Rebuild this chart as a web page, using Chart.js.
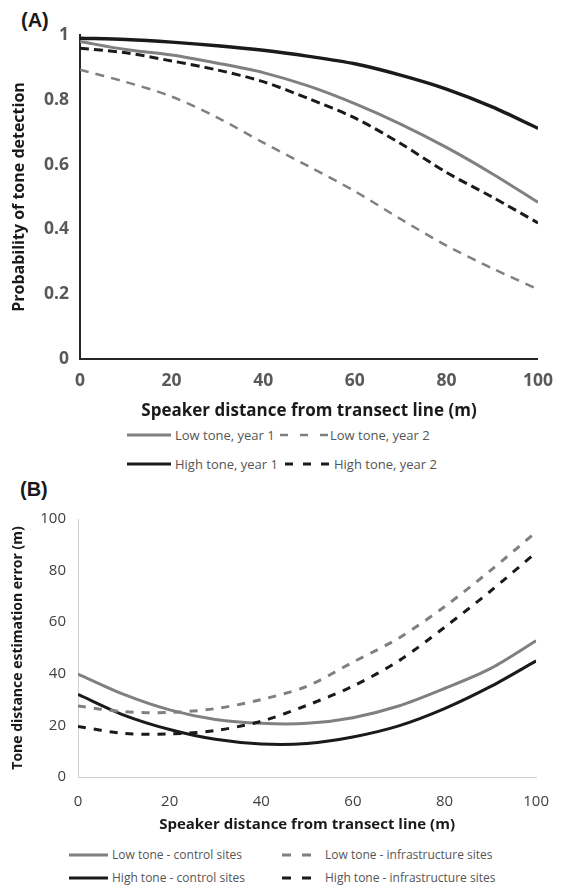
<!DOCTYPE html>
<html>
<head>
<meta charset="utf-8">
<script src="https://cdn.jsdelivr.net/npm/chart.js@4"></script>
<style>
  body { margin: 0; background: #fff; font-family: "Open Sans", sans-serif; }
  #wrap { position: relative; width: 565px; height: 889px; }
  canvas { position: absolute; left: 0; }
  .tag { position: absolute; font-family: "Liberation Sans", Arial, sans-serif; font-weight: bold; font-size: 20px; line-height: 1; color: #1a1a1a; }
  .sw { position: absolute; }
  .txt { position: absolute; font-size: 13px; line-height: 16px; color: #555; white-space: nowrap; }
  .b { font-size: 12px; }
</style>
</head>
<body>
<div id="wrap">
  <div class="tag" style="left:21px; top:10px;">(A)</div>
  <canvas id="chartA" width="565" height="425" style="top:0"></canvas>

  <svg class="sw" style="left:127px; top:432px;" width="44" height="6"><line x1="0" y1="3" x2="44" y2="3" stroke="#808080" stroke-width="3"/></svg>
  <div class="txt" style="left:175px; top:427px;">Low tone, year 1</div>
  <svg class="sw" style="left:280px; top:432px;" width="48" height="6"><line x1="0" y1="3" x2="48" y2="3" stroke="#808080" stroke-width="2.5" stroke-dasharray="8,12"/></svg>
  <div class="txt" style="left:330px; top:427px;">Low tone, year 2</div>
  <svg class="sw" style="left:127px; top:461px;" width="44" height="6"><line x1="0" y1="3" x2="44" y2="3" stroke="#1a1a1a" stroke-width="3"/></svg>
  <div class="txt" style="left:175px; top:456px;">High tone, year 1</div>
  <svg class="sw" style="left:285px; top:461px;" width="44" height="6"><line x1="0" y1="3" x2="44" y2="3" stroke="#1a1a1a" stroke-width="3" stroke-dasharray="8,10"/></svg>
  <div class="txt" style="left:334px; top:456px;">High tone, year 2</div>

  <div class="tag" style="left:20px; top:479px;">(B)</div>
  <canvas id="chartB" width="565" height="370" style="top:470px"></canvas>

  <svg class="sw" style="left:69px; top:852px;" width="39" height="6"><line x1="0" y1="3" x2="39" y2="3" stroke="#808080" stroke-width="3"/></svg>
  <div class="txt b" style="left:112px; top:847px;">Low tone - control sites</div>
  <svg class="sw" style="left:282px; top:852px;" width="29" height="6"><line x1="0" y1="3" x2="29" y2="3" stroke="#808080" stroke-width="3" stroke-dasharray="9,11"/></svg>
  <div class="txt b" style="left:325px; top:847px;">Low tone - infrastructure sites</div>
  <svg class="sw" style="left:69px; top:875px;" width="39" height="6"><line x1="0" y1="3" x2="39" y2="3" stroke="#1a1a1a" stroke-width="3"/></svg>
  <div class="txt b" style="left:112px; top:870px;">High tone - control sites</div>
  <svg class="sw" style="left:282px; top:875px;" width="29" height="6"><line x1="0" y1="3" x2="29" y2="3" stroke="#1a1a1a" stroke-width="3" stroke-dasharray="9,11"/></svg>
  <div class="txt b" style="left:325px; top:870px;">High tone - infrastructure sites</div>
</div>

<script>
// speaker distance (m)
const distances = [0, 10, 20, 30, 40, 50, 60, 70, 80, 90, 100];
const xTicks = [0, 20, 40, 60, 80, 100];

// (A) probability of tone detection
const lowYear1  = [0.98, 0.955, 0.938, 0.913, 0.884, 0.842, 0.788, 0.725, 0.653, 0.572, 0.484];
const lowYear2  = [0.893, 0.855, 0.81, 0.745, 0.668, 0.594, 0.518, 0.432, 0.35, 0.28, 0.215];
const highYear1 = [0.99, 0.986, 0.978, 0.967, 0.953, 0.934, 0.911, 0.876, 0.833, 0.778, 0.712];
const highYear2 = [0.959, 0.945, 0.92, 0.892, 0.856, 0.803, 0.744, 0.665, 0.576, 0.5, 0.42];
const yTicksA = [0, 0.2, 0.4, 0.6, 0.8, 1];

// (B) tone distance estimation error (m)
const lowControl  = [39.9, 32, 26, 22.3, 20.8, 20.8, 23, 27.5, 34.3, 42, 52.8];
const lowInfra    = [27.5, 25.3, 25, 26.5, 30, 35.2, 44.5, 53.8, 66, 80, 95];
const highControl = [32, 24, 18.4, 14.6, 12.8, 13, 15.5, 19.8, 26.5, 35, 45];
const highInfra   = [19.6, 16.9, 16.7, 18, 21.6, 27.8, 35.2, 45, 58, 72, 87];
const yTicksB = [0, 20, 40, 60, 80, 100];

const GREY = '#808080';
const BLACK = '#1a1a1a';
const FONT = 'Open Sans';

function pts(ys) {
  return distances.map((d, i) => ({ x: d, y: ys[i] }));
}

function line(data, color, dash, width) {
  return {
    data: pts(data),
    borderColor: color,
    borderWidth: width,
    borderDash: dash,
    pointRadius: 0,
    tension: 0.3,
    fill: false
  };
}

new Chart(document.getElementById('chartA'), {
  type: 'line',
  data: {
    datasets: [
      line(lowYear2, GREY, [9, 7], 2.5),
      line(highYear2, BLACK, [9, 5], 3),
      line(lowYear1, GREY, [], 3),
      line(highYear1, BLACK, [], 3.5)
    ]
  },
  options: {
    responsive: false,
    animation: false,
    layout: { padding: { top: 35, right: 15, left: 0, bottom: 0 } },
    plugins: { legend: { display: false }, tooltip: { enabled: false } },
    scales: {
      x: {
        type: 'linear', min: 0, max: 100,
        afterBuildTicks: s => { s.ticks = xTicks.map(v => ({ value: v })); },
        afterFit: s => { s.height = 66; },
        grid: { display: false, drawTicks: false },
        border: { color: '#262626', width: 2 },
        ticks: { padding: 12, color: '#595959', font: { family: FONT, size: 17.5, weight: 'bold' } },
        title: {
          display: true, text: 'Speaker distance from transect line (m)',
          color: '#1a1a1a', font: { family: FONT, size: 17, weight: 'bold' },
          padding: { top: 0, bottom: 4 }
        }
      },
      y: {
        min: 0, max: 1,
        afterBuildTicks: s => { s.ticks = yTicksA.map(v => ({ value: v })); },
        afterFit: s => { s.width = 80; },
        grid: { display: false, drawTicks: false },
        border: { color: '#262626', width: 2 },
        ticks: {
          padding: 11, color: '#595959', font: { family: FONT, size: 17.5, weight: 'bold' },
          callback: v => String(v)
        },
        title: {
          display: true, text: 'Probability of tone detection',
          color: '#1a1a1a', font: { family: FONT, size: 16, weight: 'bold' },
          padding: { top: 10, bottom: 0 }
        }
      }
    }
  }
});

new Chart(document.getElementById('chartB'), {
  type: 'line',
  data: {
    datasets: [
      line(lowInfra, GREY, [8, 8], 3),
      line(highInfra, BLACK, [8, 8], 3),
      line(lowControl, GREY, [], 3),
      line(highControl, BLACK, [], 3)
    ]
  },
  options: {
    responsive: false,
    animation: false,
    layout: { padding: { top: 49, right: 23, left: 0, bottom: 0 } },
    plugins: { legend: { display: false }, tooltip: { enabled: false } },
    scales: {
      x: {
        type: 'linear', min: 0, max: 100,
        afterBuildTicks: s => { s.ticks = xTicks.map(v => ({ value: v })); },
        afterFit: s => { s.height = 63; },
        grid: { display: false, drawTicks: false },
        border: { color: '#d0d0d0', width: 1 },
        ticks: { padding: 16, color: '#404040', font: { family: FONT, size: 15 } },
        title: {
          display: true, text: 'Speaker distance from transect line (m)',
          color: '#1a1a1a', font: { family: FONT, size: 15, weight: 'bold' },
          padding: { top: 0, bottom: 6 }
        }
      },
      y: {
        min: 0, max: 100,
        afterBuildTicks: s => { s.ticks = yTicksB.map(v => ({ value: v })); },
        afterFit: s => { s.width = 78; },
        grid: { display: false, drawTicks: false },
        border: { color: '#d0d0d0', width: 1 },
        ticks: { padding: 12, color: '#404040', font: { family: FONT, size: 15 } },
        title: {
          display: true, text: 'Tone distance estimation error (m)',
          color: '#1a1a1a', font: { family: FONT, size: 14, weight: 'bold' },
          padding: { top: 10, bottom: 0 }
        }
      }
    }
  }
});
</script>
</body>
</html>
